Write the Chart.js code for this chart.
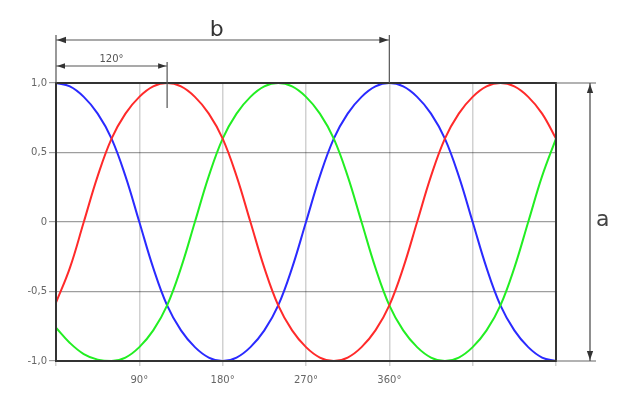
<!DOCTYPE html>
<html>
<head>
<meta charset="utf-8">
<script src="https://cdn.jsdelivr.net/npm/chart.js@4/dist/chart.umd.min.js"></script>
<style>
html,body{margin:0;padding:0;background:#fff;}
#c{display:block;}
</style>
</head>
<body>
<canvas id="c" width="640" height="417"></canvas>
<script>
// Angle in degrees (x), phase values
const angles = [0,15,30,45,60,75,90,105,120,135,150,165,180,195,210,225,240,255,270,285,300,315,330,345,360,375,390,405,420,435,450,465,480,495,510,525,540];
const bluePhase = [1,0.975,0.9,0.78,0.6,0.33,0,-0.33,-0.6,-0.78,-0.9,-0.975,-1,-0.975,-0.9,-0.78,-0.6,-0.33,0,0.33,0.6,0.78,0.9,0.975,1,0.975,0.9,0.78,0.6,0.33,0,-0.33,-0.6,-0.78,-0.9,-0.975,-1];
const redPhase = [-0.58,-0.33,0,0.33,0.6,0.78,0.9,0.975,1,0.975,0.9,0.78,0.6,0.33,0,-0.33,-0.6,-0.78,-0.9,-0.975,-1,-0.975,-0.9,-0.78,-0.6,-0.33,0,0.33,0.6,0.78,0.9,0.975,1,0.975,0.9,0.78,0.6];
const greenPhase = [-0.76,-0.87,-0.95,-0.99,-1,-0.975,-0.9,-0.78,-0.6,-0.33,0,0.33,0.6,0.78,0.9,0.975,1,0.975,0.9,0.78,0.6,0.33,0,-0.33,-0.6,-0.78,-0.9,-0.975,-1,-0.975,-0.9,-0.78,-0.6,-0.33,0,0.33,0.6];

const xTickValues = [90,180,270,360];
const xTickLabels = ['90°','180°','270°','360°'];
const yTickValues = [-1,-0.5,0,0.5,1];
const yTickLabels = ['-1,0','-0,5','0','0,5','1,0'];

// dimension annotations (angles on the x axis)
const dimB = {from:0, to:360, label:'b'};
const dim120 = {from:0, to:120, label:'120°'};
const dimA = {label:'a'};

function pts(ys){ return angles.map((a,i)=>({x:a,y:ys[i]})); }

function arrow(ctx, x, y, dir, size){
  ctx.beginPath();
  if(dir==='left'){ ctx.moveTo(x,y); ctx.lineTo(x+size,y-size*0.35); ctx.lineTo(x+size,y+size*0.35); }
  else if(dir==='right'){ ctx.moveTo(x,y); ctx.lineTo(x-size,y-size*0.35); ctx.lineTo(x-size,y+size*0.35); }
  else if(dir==='up'){ ctx.moveTo(x,y); ctx.lineTo(x-size*0.35,y+size); ctx.lineTo(x+size*0.35,y+size); }
  else { ctx.moveTo(x,y); ctx.lineTo(x-size*0.35,y-size); ctx.lineTo(x+size*0.35,y-size); }
  ctx.closePath(); ctx.fill();
}

const framePlugin = {
  id:'frame',
  afterDatasetsDraw(chart){
    const ctx = chart.ctx, a = chart.chartArea;
    const xs = chart.scales.x;
    ctx.save();
    // plot frame
    ctx.strokeStyle = '#333';
    ctx.lineWidth = 2;
    ctx.strokeRect(a.left, a.top, a.right-a.left, a.bottom-a.top);

    ctx.strokeStyle = '#555';
    ctx.fillStyle = '#333';
    ctx.lineWidth = 1.2;
    // b dimension
    const bx0 = xs.getPixelForValue(dimB.from), bx1 = xs.getPixelForValue(dimB.to);
    const by = a.top - 43;
    ctx.beginPath();
    ctx.moveTo(bx0, by-5); ctx.lineTo(bx0, a.top);
    ctx.moveTo(bx1, by-5); ctx.lineTo(bx1, a.top);
    ctx.moveTo(bx0, by); ctx.lineTo(bx1, by);
    ctx.stroke();
    arrow(ctx, bx0+1, by, 'left', 9);
    arrow(ctx, bx1-1, by, 'right', 9);
    ctx.font = '22px "DejaVu Sans", sans-serif';
    ctx.textAlign = 'center'; ctx.textBaseline = 'alphabetic';
    ctx.fillText(dimB.label, (bx0+bx1)/2 - 6, by - 4);

    // 120° dimension
    const cx0 = xs.getPixelForValue(dim120.from), cx1 = xs.getPixelForValue(dim120.to);
    const cy = a.top - 17;
    ctx.beginPath();
    ctx.moveTo(cx0, cy); ctx.lineTo(cx1, cy);
    ctx.moveTo(cx1, cy-4); ctx.lineTo(cx1, a.top+25);
    ctx.stroke();
    arrow(ctx, cx0+1, cy, 'left', 8);
    arrow(ctx, cx1-1, cy, 'right', 8);
    ctx.font = '10px "DejaVu Sans", sans-serif';
    ctx.fillStyle = '#555';
    ctx.fillText(dim120.label, (cx0+cx1)/2, cy - 4);

    // a dimension
    const ax = a.right + 34;
    ctx.strokeStyle = '#666';
    ctx.beginPath();
    ctx.moveTo(a.right, a.top); ctx.lineTo(ax+6, a.top);
    ctx.moveTo(a.right, a.bottom); ctx.lineTo(ax+6, a.bottom);
    ctx.stroke();
    ctx.strokeStyle = '#444';
    ctx.beginPath();
    ctx.moveTo(ax, a.top); ctx.lineTo(ax, a.bottom);
    ctx.stroke();
    ctx.fillStyle = '#333';
    arrow(ctx, ax, a.top+1, 'up', 9);
    arrow(ctx, ax, a.bottom-1, 'down', 9);
    ctx.font = '22px "DejaVu Sans", sans-serif';
    ctx.fillStyle = '#444';
    ctx.textAlign = 'left'; ctx.textBaseline = 'middle';
    ctx.fillText(dimA.label, ax + 6, (a.top+a.bottom)/2 - 2);
    ctx.restore();
  }
};

const lineDs = (data, color) => ({
  data: pts(data), borderColor: color, borderWidth: 2, pointRadius: 0,
  tension: 0.4, fill: false
});

new Chart(document.getElementById('c'), {
  type: 'line',
  data: {
    datasets: [
      lineDs(redPhase, '#ff2a2a'),
      lineDs(greenPhase, '#22ee22'),
      lineDs(bluePhase, '#2a2aff')
    ]
  },
  options: {
    responsive: false,
    animation: false,
    layout: { padding: { left: 0, top: 83, right: 84, bottom: 0 } },
    plugins: { legend: { display: false }, tooltip: { enabled: false } },
    scales: {
      x: {
        type: 'linear', min: 0, max: 540,
        afterBuildTicks(s){ s.ticks = [0,90,180,270,360,450,540].map(v=>({value:v})); },
        afterFit(s){ s.height = 56; },
        border: { display: false },
        grid: { color: 'rgba(0,0,0,0.18)', lineWidth: 1.5, tickLength: 5 },
        ticks: {
          color: '#666', font: { size: 10, family: '"DejaVu Sans", sans-serif' }, padding: 8, maxRotation: 0,
          callback(v){ const i = xTickValues.indexOf(v); return i >= 0 ? xTickLabels[i] : ''; }
        }
      },
      y: {
        min: -1, max: 1,
        afterBuildTicks(s){ s.ticks = yTickValues.map(v=>({value:v})); },
        afterFit(s){ s.width = 56; },
        border: { display: false },
        grid: { color: 'rgba(0,0,0,0.38)', lineWidth: 1.2, tickLength: 7 },
        ticks: {
          color: '#666', font: { size: 10, family: '"DejaVu Sans", sans-serif' }, padding: 2,
          callback(v){ const i = yTickValues.indexOf(v); return i >= 0 ? yTickLabels[i] : ''; }
        }
      }
    }
  },
  plugins: [framePlugin]
});
</script>
</body>
</html>
